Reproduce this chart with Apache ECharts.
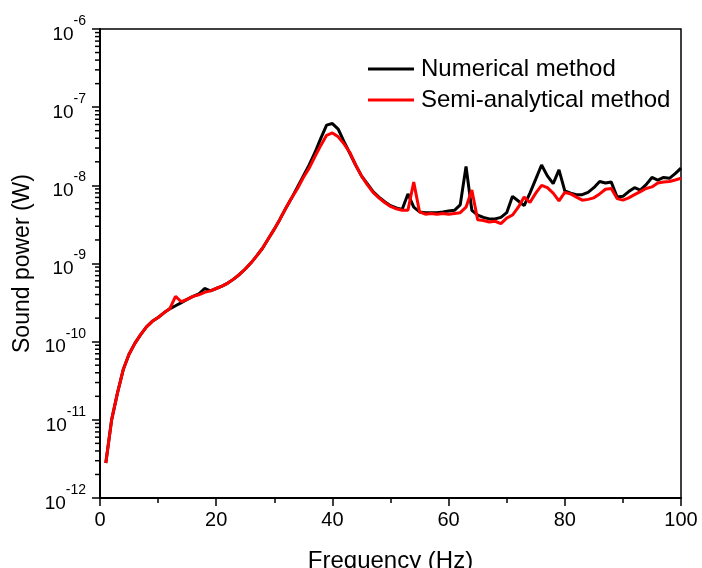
<!DOCTYPE html>
<html>
<head>
<meta charset="utf-8">
<script src="https://cdn.jsdelivr.net/npm/echarts@6/dist/echarts.min.js"></script>
<style>
html,body{margin:0;padding:0;background:#fff;}
#chart{width:702px;height:568px;}
</style>
</head>
<body>
<div id="chart"></div>
<script>
// Frequency (Hz)
var frequencies = [];
for (var i = 1; i <= 100; i++) frequencies.push(i);

// Sound power (W), numerical method
var numerical = [
  2.8e-12, 1.0e-11, 2.2e-11, 4.4e-11, 6.9e-11, 9.5e-11, 1.23e-10, 1.55e-10, 1.82e-10, 2.04e-10,
  2.34e-10, 2.63e-10, 2.88e-10, 3.16e-10, 3.47e-10, 3.8e-10, 4.07e-10, 4.79e-10, 4.47e-10, 4.79e-10,
  5.13e-10, 5.62e-10, 6.31e-10, 7.24e-10, 8.51e-10, 1.02e-9, 1.26e-9, 1.58e-9, 2.09e-9, 2.75e-9,
  3.72e-9, 5.13e-9, 6.92e-9, 9.55e-9, 1.32e-8, 1.82e-8, 2.63e-8, 3.98e-8, 5.89e-8, 6.17e-8,
  5.25e-8, 3.63e-8, 2.57e-8, 1.82e-8, 1.32e-8, 1.05e-8, 8.32e-9, 7.08e-9, 6.17e-9, 5.5e-9,
  5.13e-9, 4.9e-9, 7.76e-9, 5.25e-9, 4.57e-9, 4.47e-9, 4.47e-9, 4.47e-9, 4.57e-9, 4.68e-9,
  4.79e-9, 5.62e-9, 1.74e-8, 4.79e-9, 4.17e-9, 3.89e-9, 3.72e-9, 3.72e-9, 3.89e-9, 4.47e-9,
  7.24e-9, 6.31e-9, 5.5e-9, 7.94e-9, 1.2e-8, 1.82e-8, 1.32e-8, 1.05e-8, 1.58e-8, 8.51e-9,
  7.94e-9, 7.59e-9, 7.59e-9, 8.13e-9, 9.33e-9, 1.12e-8, 1.07e-8, 1.1e-8, 7.08e-9, 7.24e-9,
  8.32e-9, 9.33e-9, 8.71e-9, 1.02e-8, 1.26e-8, 1.17e-8, 1.26e-8, 1.23e-8, 1.41e-8, 1.66e-8
];

// Sound power (W), semi-analytical method
var semiAnalytical = [
  2.8e-12, 1.0e-11, 2.2e-11, 4.4e-11, 6.9e-11, 9.5e-11, 1.23e-10, 1.55e-10, 1.82e-10, 2.04e-10,
  2.34e-10, 2.63e-10, 3.8e-10, 3.24e-10, 3.47e-10, 3.8e-10, 3.98e-10, 4.27e-10, 4.47e-10, 4.79e-10,
  5.13e-10, 5.62e-10, 6.31e-10, 7.24e-10, 8.51e-10, 1.02e-9, 1.26e-9, 1.58e-9, 2.09e-9, 2.75e-9,
  3.72e-9, 5.13e-9, 6.92e-9, 9.12e-9, 1.26e-8, 1.66e-8, 2.34e-8, 3.24e-8, 4.37e-8, 4.68e-8,
  4.17e-8, 3.39e-8, 2.63e-8, 1.82e-8, 1.32e-8, 1.02e-8, 8.13e-9, 6.92e-9, 6.03e-9, 5.37e-9,
  5.01e-9, 4.79e-9, 4.79e-9, 1.1e-8, 4.57e-9, 4.27e-9, 4.37e-9, 4.27e-9, 4.37e-9, 4.27e-9,
  4.37e-9, 4.47e-9, 5.25e-9, 8.71e-9, 3.63e-9, 3.55e-9, 3.39e-9, 3.47e-9, 3.24e-9, 3.8e-9,
  4.17e-9, 5.25e-9, 7.08e-9, 6.03e-9, 7.94e-9, 1.0e-8, 9.33e-9, 7.94e-9, 6.31e-9, 8.13e-9,
  7.76e-9, 7.08e-9, 6.46e-9, 6.61e-9, 6.92e-9, 7.76e-9, 8.91e-9, 9.12e-9, 6.76e-9, 6.46e-9,
  6.92e-9, 7.59e-9, 8.32e-9, 9.12e-9, 9.55e-9, 1.07e-8, 1.1e-8, 1.12e-8, 1.17e-8, 1.23e-8
];

// Axis tick settings
var xTicks = [0, 20, 40, 60, 80, 100];
var yDecades = [1e-12, 1e-11, 1e-10, 1e-9, 1e-8, 1e-7, 1e-6];
var minorMultipliers = [2, 3, 4, 5, 6, 7, 8, 9];

var yMinorTicks = [];
for (var d = 0; d < yDecades.length - 1; d++) {
  for (var m = 0; m < minorMultipliers.length; m++) {
    yMinorTicks.push([0, yDecades[d] * minorMultipliers[m]]);
  }
}

function pair(xs, ys) {
  var out = [];
  for (var i = 0; i < xs.length; i++) out.push([xs[i], ys[i]]);
  return out;
}

var FONT = "'Liberation Sans', Arial, sans-serif";
var chart = echarts.init(document.getElementById('chart'), null, {renderer: 'canvas'});

chart.setOption({
  backgroundColor: '#fff',
  animation: false,
  textStyle: {fontFamily: FONT, color: '#000'},
  grid: {
    left: 100, right: 21, top: 29, bottom: 70,
    containLabel: false,
    outerBoundsMode: 'none',
    show: true, borderColor: '#000', borderWidth: 1.5, backgroundColor: 'transparent'
  },
  legend: {
    orient: 'vertical',
    left: 363, top: 52,
    icon: 'rect',
    itemWidth: 46, itemHeight: 3,
    itemGap: 7,
    textStyle: {fontFamily: FONT, fontSize: 24, color: '#000', padding: [0, 0, 0, 2]},
    data: ['Numerical method', 'Semi-analytical method']
  },
  xAxis: {
    type: 'value',
    min: xTicks[0], max: xTicks[xTicks.length - 1], interval: 20,
    name: 'Frequency (Hz)',
    nameLocation: 'middle', nameGap: 51,
    nameTextStyle: {fontFamily: FONT, fontSize: 24, color: '#000'},
    axisLine: {show: true, onZero: false, lineStyle: {color: '#000', width: 2}},
    axisTick: {show: true, inside: false, length: 8, lineStyle: {color: '#000', width: 1.5}},
    minorTick: {show: true, splitNumber: 2, length: 5, lineStyle: {color: '#000', width: 1.5}},
    axisLabel: {fontFamily: FONT, fontSize: 20, color: '#000', margin: 12},
    splitLine: {show: false}
  },
  yAxis: {
    type: 'log', logBase: 10,
    min: yDecades[0], max: yDecades[yDecades.length - 1],
    name: 'Sound power (W)',
    nameLocation: 'middle', nameGap: 64,
    nameTextStyle: {fontFamily: FONT, fontSize: 23, color: '#000'},
    axisLine: {show: true, onZero: false, lineStyle: {color: '#000', width: 2}},
    axisTick: {show: true, inside: false, length: 8, lineStyle: {color: '#000', width: 1.5}},
    axisLabel: {
      margin: 14,
      formatter: function (v) {
        var e = Math.round(Math.log(v) / Math.LN10);
        return '{b|10}{s|' + e + '}';
      },
      rich: {
        b: {fontFamily: FONT, fontSize: 19, color: '#000', verticalAlign: 'bottom', lineHeight: 30},
        s: {fontFamily: FONT, fontSize: 14, color: '#000', verticalAlign: 'top', lineHeight: 30}
      }
    },
    splitLine: {show: false}
  },
  series: [
    {
      name: 'Numerical method',
      type: 'line',
      data: pair(frequencies, numerical),
      symbol: 'none',
      color: '#000',
      lineStyle: {color: '#000', width: 3},
      z: 2
    },
    {
      name: 'Semi-analytical method',
      type: 'line',
      data: pair(frequencies, semiAnalytical),
      symbol: 'none',
      color: '#ff0000',
      lineStyle: {color: '#ff0000', width: 3},
      z: 3
    },
    {
      name: 'minorTicksY',
      type: 'custom',
      data: yMinorTicks,
      silent: true,
      clip: false,
      z: 5,
      renderItem: function (params, api) {
        var p = api.coord([api.value(0), api.value(1)]);
        return {
          type: 'line',
          shape: {x1: p[0] - 5, y1: p[1], x2: p[0], y2: p[1]},
          style: {stroke: '#000', lineWidth: 1.5}
        };
      }
    }
  ]
});
</script>
</body>
</html>
